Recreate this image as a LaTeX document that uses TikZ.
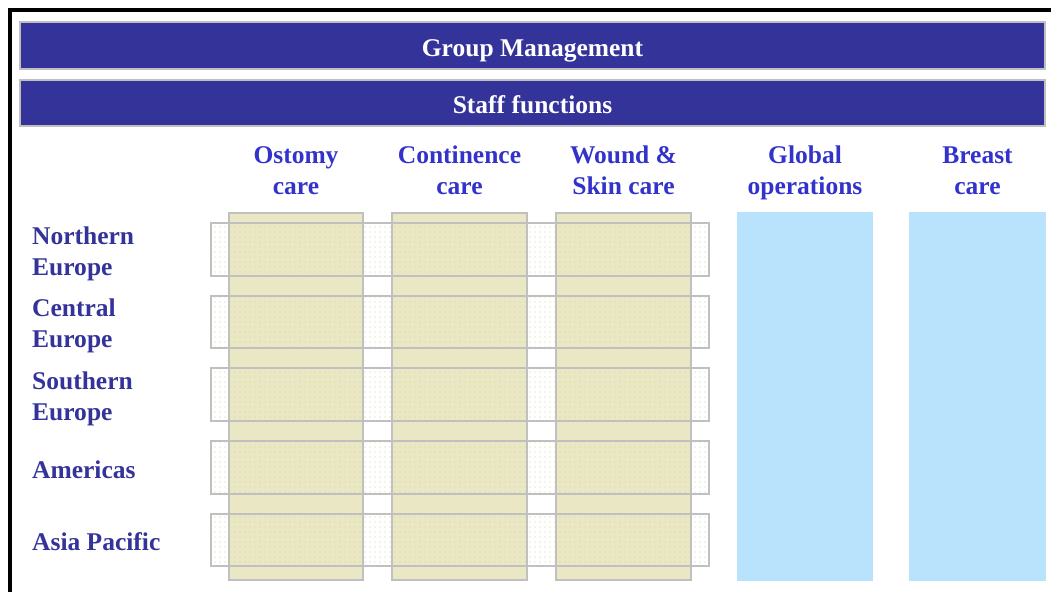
\documentclass[tikz,border=0pt]{standalone}
\usepackage{fontspec}
\setmainfont{Liberation Serif}
\usetikzlibrary{patterns.meta}
\definecolor{barblue}{HTML}{333399}
\definecolor{headblue}{HTML}{3333CC}
\definecolor{khaki}{HTML}{EAE8C4}
\definecolor{skyblue}{HTML}{B9E3FD}
\definecolor{edgegray}{HTML}{C0C0C0}
\definecolor{dotcol}{HTML}{CCD48C}
\begin{document}
\begin{tikzpicture}[x=1pt,y=-1pt,
  bigfont/.style={font=\fontsize{25.5}{31}\selectfont\bfseries},
  bar/.style={fill=barblue,draw=edgegray,line width=2pt},
  bartext/.style={bigfont,text=white,inner sep=0pt,anchor=center},
  headtext/.style={bigfont,text=headblue,inner sep=0pt,align=center,anchor=center},
  rowtext/.style={bigfont,text=barblue,inner sep=0pt,align=left,anchor=west},
  kcol/.style={fill=khaki,draw=edgegray,line width=2pt},
  bcol/.style={fill=skyblue},
  rowbox/.style={pattern={Dots[distance=5pt,radius=0.7pt]},pattern color=dotcol,draw=edgegray,line width=2pt}]
\useasboundingbox (0,0) rectangle (1051,592);
\fill[white] (0,0) rectangle (1051,592);
% frame
\draw[line width=4pt] (10,592) -- (10,10) -- (1051,10);
% bars
\draw[bar] (20,22) rectangle (1045,69);
\draw[bar] (20,80) rectangle (1045,126);
\node[bartext] (gm) at (532.5,50) {\strut Group Management};
\node[bartext] (sf) at (532.5,107.5) {\strut Staff functions};
% khaki columns
\draw[kcol] (229,213) rectangle (363,580);
\draw[kcol] (392,213) rectangle (527,580);
\draw[kcol] (556,213) rectangle (691,580);
% blue columns
\fill[bcol] (737,212) rectangle (873,581);
\fill[bcol] (909,212) rectangle (1046,581);
% row boxes
\foreach \ya/\yb in {223/276, 296/348, 368/421, 441/494, 514/566}
  \draw[rowbox] (211,\ya) rectangle (709,\yb);
% headers
\node[headtext] (h1) at (296,172.3) {\strut Ostomy\\\strut care};
\node[headtext] (h2) at (459.5,172.3) {\strut Continence\\\strut care};
\node[headtext] (h3) at (623.5,172.3) {\strut Wound \&\\\strut Skin care};
\node[headtext] (h4) at (805,172.3) {\strut Global\\\strut operations};
\node[headtext] (h5) at (977.5,172.3) {\strut Breast\\\strut care};
% row labels
\node[rowtext] (r1) at (32,253.3) {\strut Northern\\\strut Europe};
\node[rowtext] (r2) at (32,325.8) {\strut Central\\\strut Europe};
\node[rowtext] (r3) at (32,398.3) {\strut Southern\\\strut Europe};
\node[rowtext] (r4) at (32,472) {\strut Americas};
\node[rowtext] (r5) at (32,544) {\strut Asia Pacific};
\end{tikzpicture}
\end{document}
